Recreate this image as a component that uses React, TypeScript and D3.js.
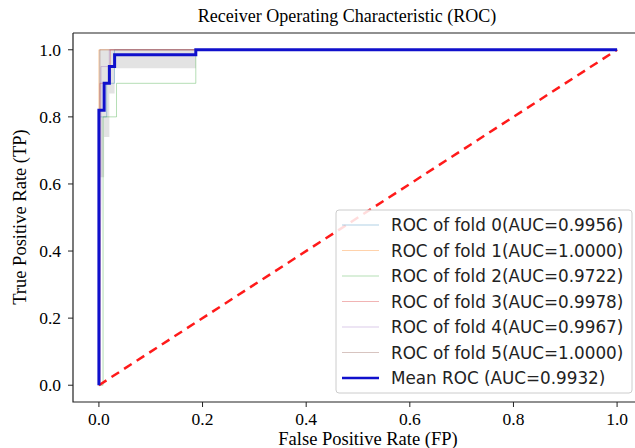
import * as d3 from "d3";

// fold curves (fpr / tpr step points)
const foldAuc = ["0.9956", "1.0000", "0.9722", "0.9978", "0.9967", "1.0000"];
const foldColors = ["#1f77b4", "#ff7f0e", "#2ca02c", "#d62728", "#9467bd", "#8c564b"];
const fold0Fpr = [0, 0, 0.015, 0.015, 0.03, 0.03, 1];
const fold0Tpr = [0, 0.8, 0.8, 0.9, 0.9, 1, 1];
const fold1Fpr = [0, 0, 1];
const fold1Tpr = [0, 1, 1];
const fold2Fpr = [0, 0.008, 0.008, 0.008, 0.034, 0.034, 0.187, 0.187, 1];
const fold2Tpr = [0, 0, 0.3, 0.8, 0.8, 0.9, 0.9, 1, 1];
const fold3Fpr = [0, 0.002, 0.002, 0.022, 0.022, 1];
const fold3Tpr = [0, 0, 0.9, 0.9, 1, 1];
const fold4Fpr = [0, 0.004, 0.004, 0.02, 0.02, 1];
const fold4Tpr = [0, 0.57, 0.95, 0.95, 1, 1];
const fold5Fpr = [0, 0.002, 0.002, 1];
const fold5Tpr = [0, 0, 1, 1];

const meanFpr = [0, 0, 0.0101, 0.0101, 0.0202, 0.0202, 0.0303, 0.0303, 0.187, 0.187, 1];
const meanTpr = [0, 0.82, 0.82, 0.9, 0.9, 0.95, 0.95, 0.985, 0.985, 1, 1];
const bandFpr = [0, 0.0101, 0.0101, 0.0202, 0.0202, 0.0303, 0.0303, 0.187, 0.187, 1];
const bandLow = [0.62, 0.62, 0.74, 0.74, 0.87, 0.87, 0.945, 0.945, 1, 1];
const bandHigh = [1, 1, 1, 1, 1, 1, 1, 1, 1, 1];
const meanAuc = "0.9932";

const ticks = [0, 0.2, 0.4, 0.6, 0.8, 1.0];

const folds = [
  [fold0Fpr, fold0Tpr],
  [fold1Fpr, fold1Tpr],
  [fold2Fpr, fold2Tpr],
  [fold3Fpr, fold3Tpr],
  [fold4Fpr, fold4Tpr],
  [fold5Fpr, fold5Tpr],
];

const serif = "'Liberation Serif', 'DejaVu Serif', serif";
const sans = "'DejaVu Sans', sans-serif";

export default function App() {
  const x = d3.scaleLinear().domain([-0.05, 1.05]).range([73, 643]);
  const y = d3.scaleLinear().domain([-0.05, 1.05]).range([402, 33]);

  const line = d3
    .line<[number, number]>()
    .x((d) => x(d[0]))
    .y((d) => y(d[1]));
  const area = d3
    .area<number>()
    .x((i) => x(bandFpr[i]))
    .y0((i) => y(bandLow[i]))
    .y1((i) => y(bandHigh[i]));

  const zip = (a: number[], b: number[]) => a.map((v, i) => [v, b[i]] as [number, number]);

  const legendRows = [
    ...foldAuc.map((a, i) => ({ label: `ROC of fold ${i}(AUC=${a})`, color: foldColors[i], w: 1, op: 0.35 })),
    { label: `Mean ROC (AUC=${meanAuc})`, color: "#1010cc", w: 2.5, op: 1 },
  ];

  return (
    <div style={{ position: "fixed", left: 0, top: 0 }}>
      <svg width={635} height={448} style={{ display: "block", background: "#fff" }}>
        <defs>
          <clipPath id="plot">
            <rect x={73} y={33} width={570} height={369} />
          </clipPath>
        </defs>
        <text x={347} y={22} textAnchor="middle" fontFamily={serif} fontSize={18}>
          Receiver Operating Characteristic (ROC)
        </text>

        <g clipPath="url(#plot)">
          <path d={area(d3.range(bandFpr.length)) ?? ""} fill="#808080" fillOpacity={0.22} />
          {folds.map(([f, t], i) => (
            <path key={i} d={line(zip(f, t)) ?? ""} fill="none" stroke={foldColors[i]} strokeOpacity={0.35} strokeWidth={1} />
          ))}
          <path
            d={line([[0, 0], [1, 1]]) ?? ""}
            fill="none"
            stroke="#ff1a1a"
            strokeWidth={2.5}
            strokeDasharray="9,6"
          />
          <path d={line(zip(meanFpr, meanTpr)) ?? ""} fill="none" stroke="#1010cc" strokeWidth={3} />
        </g>

        {/* spines */}
        <path d="M73,33H643M73,33V402H643" fill="none" stroke="#222" strokeWidth={1.2} />

        {ticks.map((t) => (
          <g key={"x" + t}>
            <line x1={x(t)} x2={x(t)} y1={402} y2={407} stroke="#222" />
            <text x={x(t)} y={425} textAnchor="middle" fontFamily={serif} fontSize={17.5}>
              {t.toFixed(1)}
            </text>
          </g>
        ))}
        {ticks.map((t) => (
          <g key={"y" + t}>
            <line x1={68} x2={73} y1={y(t)} y2={y(t)} stroke="#222" />
            <text x={61} y={y(t) + 6} textAnchor="end" fontFamily={serif} fontSize={17.5}>
              {t.toFixed(1)}
            </text>
          </g>
        ))}
        <text x={368} y={445} textAnchor="middle" fontFamily={serif} fontSize={18.5}>
          False Positive Rate (FP)
        </text>
        <text transform="translate(26,217) rotate(-90)" textAnchor="middle" fontFamily={serif} fontSize={18.5}>
          True Positive Rate (TP)
        </text>

        {/* legend */}
        <rect x={336} y={210} width={296} height={183} rx={3} fill="#fff" fillOpacity={0.85} stroke="#ccc" />
        {legendRows.map((r, i) => {
          const cy = 225 + i * 25.5;
          return (
            <g key={r.label}>
              <line x1={342} x2={379} y1={cy} y2={cy} stroke={r.color} strokeWidth={r.w} strokeOpacity={r.op} />
              <text x={391} y={cy + 6} fontFamily={sans} fontSize={16.8} fill="#222">
                {r.label}
              </text>
            </g>
          );
        })}
      </svg>
    </div>
  );
}
